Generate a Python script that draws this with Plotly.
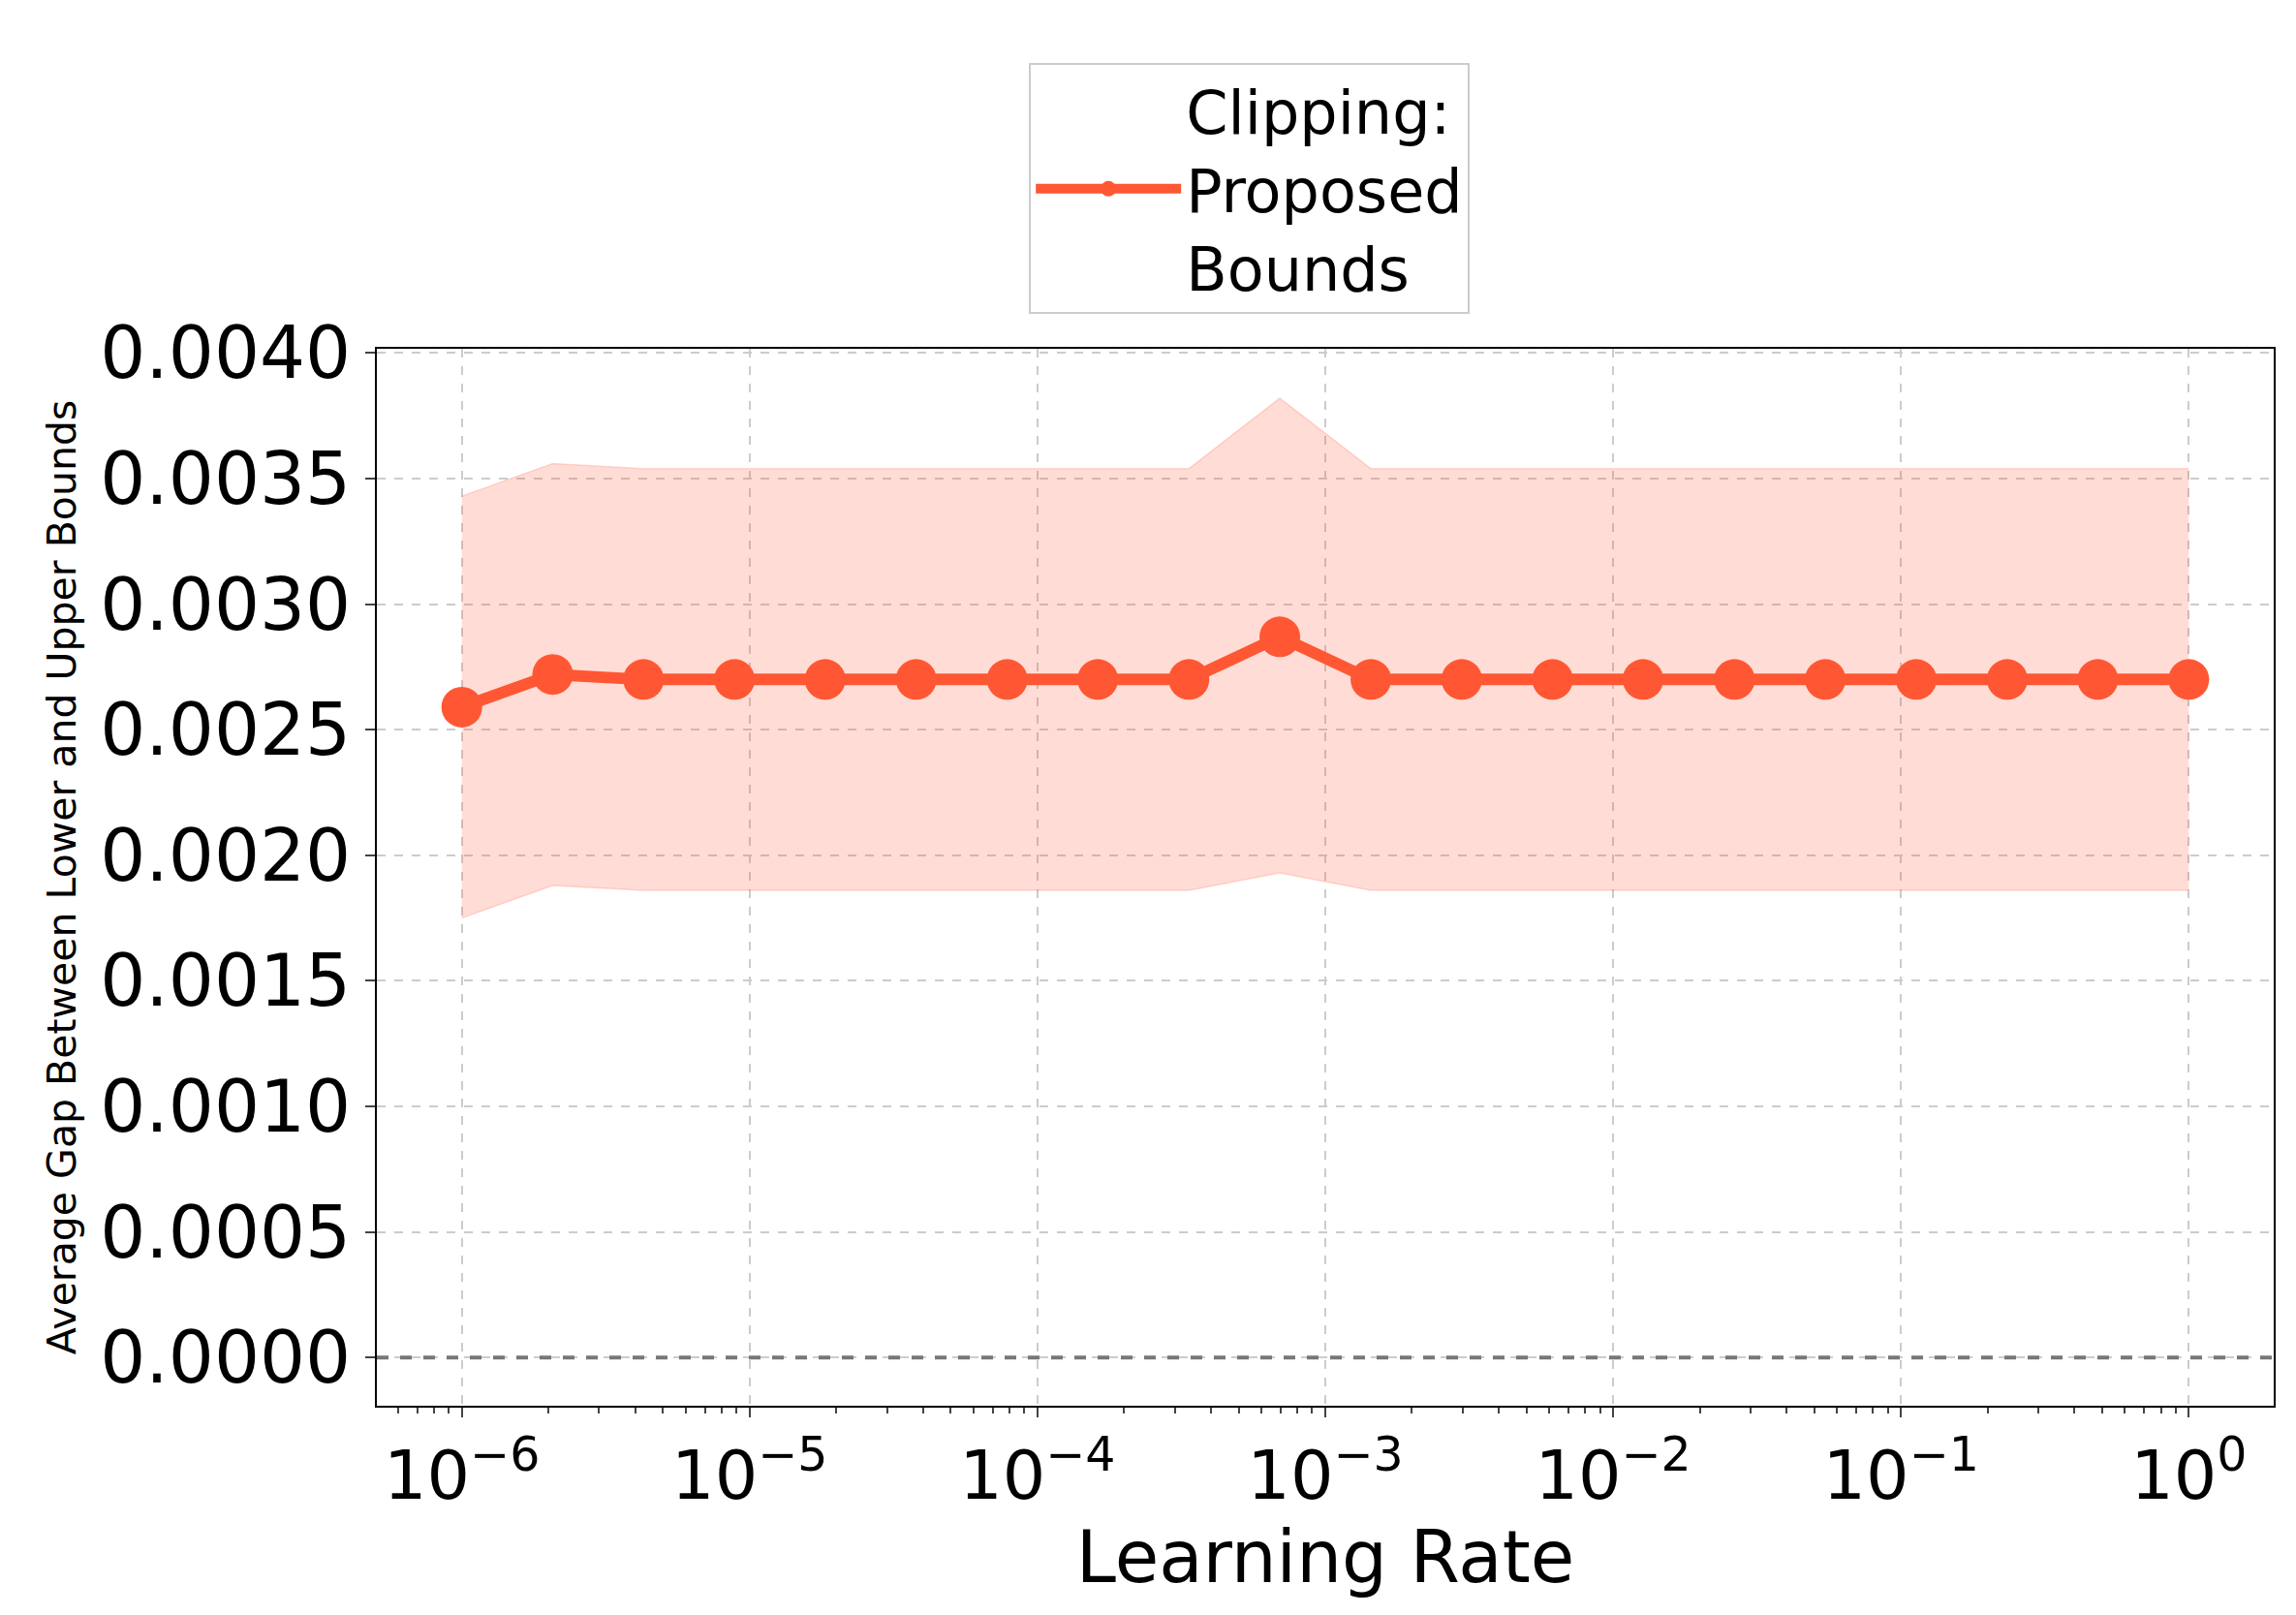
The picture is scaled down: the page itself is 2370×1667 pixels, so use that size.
import plotly.graph_objects as go

lr = [1e-6, 2.07e-6, 4.28e-6, 8.86e-6, 1.83e-5, 3.79e-5, 7.85e-5, 1.62e-4, 3.36e-4, 6.95e-4,
      1.44e-3, 2.98e-3, 6.16e-3, 1.27e-2, 2.64e-2, 5.46e-2, 0.113, 0.234, 0.483, 1.0]
gap = [0.00259, 0.00272, 0.00270, 0.00270, 0.00270, 0.00270, 0.00270, 0.00270, 0.00270, 0.00287,
       0.00270, 0.00270, 0.00270, 0.00270, 0.00270, 0.00270, 0.00270, 0.00270, 0.00270, 0.00270]
upper = [0.00343, 0.00356, 0.00354, 0.00354, 0.00354, 0.00354, 0.00354, 0.00354, 0.00354, 0.00382,
         0.00354, 0.00354, 0.00354, 0.00354, 0.00354, 0.00354, 0.00354, 0.00354, 0.00354, 0.00354]
lower = [0.00175, 0.00188, 0.00186, 0.00186, 0.00186, 0.00186, 0.00186, 0.00186, 0.00186, 0.00193,
         0.00186, 0.00186, 0.00186, 0.00186, 0.00186, 0.00186, 0.00186, 0.00186, 0.00186, 0.00186]
xtick_vals = [1e-6, 1e-5, 1e-4, 1e-3, 1e-2, 1e-1, 1]
xtick_text = ["10<sup>−6</sup>", "10<sup>−5</sup>", "10<sup>−4</sup>", "10<sup>−3</sup>",
              "10<sup>−2</sup>", "10<sup>−1</sup>", "10<sup>0</sup>"]
ytick_vals = [0.0, 0.0005, 0.001, 0.0015, 0.002, 0.0025, 0.003, 0.0035, 0.004]

color = "#FF5733"
fig = go.Figure()
fig.add_trace(go.Scatter(x=lr, y=upper, mode="lines", line=dict(width=0), showlegend=False, hoverinfo="skip"))
fig.add_trace(go.Scatter(x=lr, y=lower, mode="lines", fill="tonexty", fillcolor="rgba(255,87,51,0.2)",
                         line=dict(width=1.5, color="rgba(255,87,51,0.2)"), showlegend=False, hoverinfo="skip"))
fig.add_trace(go.Scatter(x=lr, y=upper, mode="lines", line=dict(width=1.5, color="rgba(255,87,51,0.2)"),
                         showlegend=False, hoverinfo="skip"))
fig.add_trace(go.Scatter(x=lr, y=gap, mode="lines+markers", name="Clipping:<br>Proposed<br>Bounds",
                         line=dict(color=color, width=12), marker=dict(size=42, color=color)))

fig.add_shape(type="line", xref="paper", x0=0, x1=1, yref="y", y0=0, y1=0,
              line=dict(color="#777777", width=4, dash="dash"))

font = "DejaVu Sans"
fig.update_layout(
    width=2370, height=1667, plot_bgcolor="white", paper_bgcolor="white",
    margin=dict(l=381, r=31, t=352, b=224),
    font=dict(family=font, color="black"),
    legend=dict(x=0.46, y=1.27, xanchor="center", yanchor="top", font=dict(size=62),
                bordercolor="#cccccc", borderwidth=2, itemwidth=150),
    xaxis=dict(type="log", range=[-6.295, 0.295], tickvals=xtick_vals, ticktext=xtick_text,
               tickfont=dict(size=70), ticks="outside", ticklen=10, tickwidth=2,
               showline=True, mirror=True, linecolor="black", linewidth=2,
               showgrid=True, gridcolor="#cccccc", griddash="dash", gridwidth=2,
               minor=dict(ticks="outside", ticklen=6, tickwidth=1.5, dtick="D1", showgrid=False),
               title=dict(text="Learning Rate", font=dict(size=74), standoff=16)),
    yaxis=dict(range=[-0.000192, 0.004017], tickvals=ytick_vals,
               ticktext=[f"{v:.4f}" for v in ytick_vals], tickfont=dict(size=74),
               ticks="outside", ticklen=10, tickwidth=2,
               showline=True, mirror=True, linecolor="black", linewidth=2,
               showgrid=True, gridcolor="#cccccc", griddash="dash", gridwidth=2, zeroline=False,
               title=dict(text="Average Gap Between Lower and Upper Bounds", font=dict(size=41), standoff=12)),
)
fig.write_html("out.html")
